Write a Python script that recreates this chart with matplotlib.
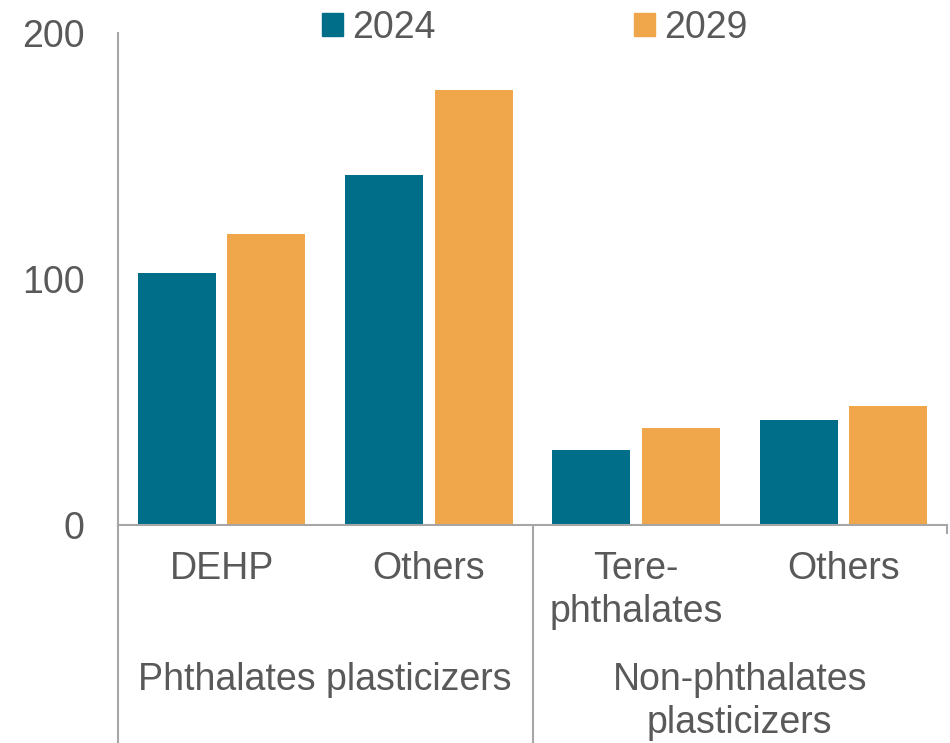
import matplotlib.pyplot as plt
from matplotlib.patches import Patch

# Plasticizer market by type
categories = ["DEHP", "Others", "Tere-\nphthalates", "Others"]
groups = ["Phthalates plasticizers", "Non-phthalates\nplasticizers"]
years = ["2024", "2029"]
vals_2024 = [102.6, 142.3, 30.4, 42.5]
vals_2029 = [118.4, 176.8, 39.4, 48.5]
yticks = [0, 100, 200]

TEAL = "#006E89"
ORANGE = "#F0A64A"
GREY_TXT = "#595959"
GREY_LN = "#A6A6A6"

plt.rcParams["font.family"] = ["Liberation Sans", "DejaVu Sans"]
FS = 27

fig = plt.figure(figsize=(9.5, 7.43), dpi=100)
W, H = 950, 743
x0, x1, y0, y1 = 118, 947, 525, 33
ax = fig.add_axes([x0 / W, (H - y0) / H, (x1 - x0) / W, (y0 - y1) / H])

xs = list(range(len(categories)))
bw = 0.377
off = 0.216
ax.bar([x - off for x in xs], vals_2024, width=bw, color=TEAL)
ax.bar([x + off for x in xs], vals_2029, width=bw, color=ORANGE)

ax.set_xlim(-0.5, len(categories) - 0.5)
ax.set_ylim(0, 200)
ax.set_yticks(yticks)
ax.set_yticklabels([str(t) for t in yticks])
ax.tick_params(axis="y", length=0, pad=24, labelsize=FS, labelcolor=GREY_TXT)
ax.set_xticks([])

for s in ["top", "right"]:
    ax.spines[s].set_visible(False)
for s in ["left", "bottom"]:
    ax.spines[s].set_color(GREY_LN)
    ax.spines[s].set_linewidth(1.5)

# group box lines below the axis
ph = y0 - y1  # axes height in px
tr = ax.get_xaxis_transform()
for xv in [-0.5, 1.5]:
    ax.plot([xv, xv], [0, -(H - y0) / ph], transform=tr, color=GREY_LN,
            lw=1.5, clip_on=False)
ax.plot([3.5, 3.5], [0, -8 / ph], transform=tr, color=GREY_LN,
        lw=1.5, clip_on=False)


def put_label(x, y_px, text):
    # one line at a time, 43 px apart
    for i, line in enumerate(text.split("\n")):
        ax.text(x, -(y_px + 43 * i - y0) / ph, line, transform=tr, ha="center",
                va="center", fontsize=FS, color=GREY_TXT)


for x, lab in zip(xs, categories):
    put_label(x, 569, lab)
for gx, lab in zip([0.5, 2.5], groups):
    put_label(gx, 680, lab)

handles = [Patch(color=TEAL, label=years[0]), Patch(color=ORANGE, label=years[1])]
leg = fig.legend(handles=handles, ncol=2, loc="center", bbox_to_anchor=(535 / W, 1 - 28 / H),
                 frameon=False, fontsize=FS, handlelength=0.55, handleheight=0.55,
                 handletextpad=0.25, columnspacing=5.3, borderpad=0)
for t in leg.get_texts():
    t.set_color(GREY_TXT)

fig.savefig("out.png", dpi=100)
